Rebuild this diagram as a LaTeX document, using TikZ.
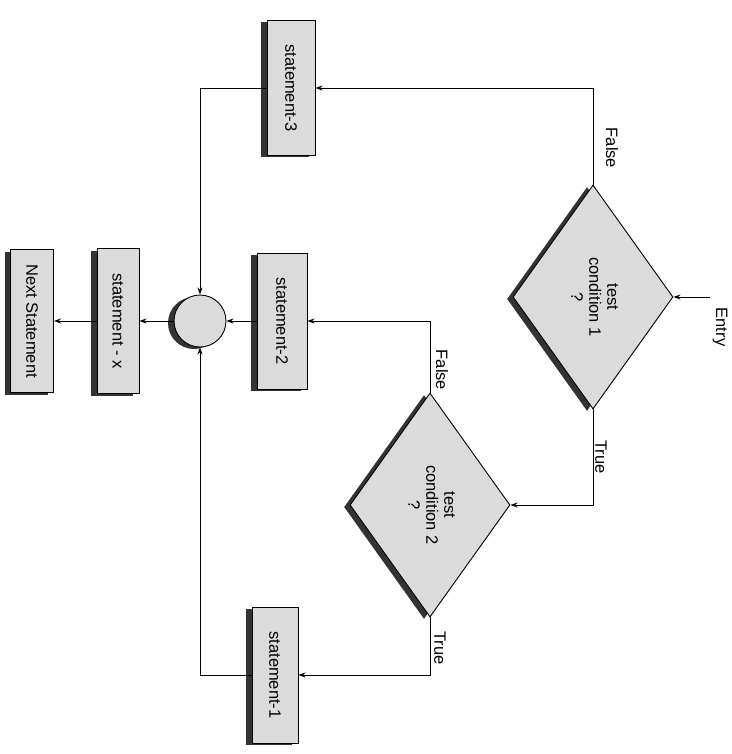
\documentclass[tikz,border=0pt]{standalone}
\usepackage{fontspec}
\setmainfont{Liberation Sans}
\usepackage{graphicx}
\usetikzlibrary{shadows,arrows.meta,shapes.geometric}
\begin{document}
\begin{tikzpicture}[x=1pt,y=1pt,
  font=\fontsize{16.5}{18}\selectfont,
  shaded/.style={fill=black!14, draw=black, line width=0.9pt,
    drop shadow={shadow xshift=-6pt, shadow yshift=-2pt, fill=black!80, opacity=1}},
  stmt/.style={shaded, rectangle, inner sep=0pt},
  dec/.style={shaded, diamond, inner sep=0pt, minimum width=160pt, minimum height=224pt},
  junc/.style={shaded, circle, inner sep=0pt, minimum size=52pt},
  flow/.style={line width=0.9pt, -{Stealth[length=7pt,width=5pt]}},
  lbl/.style={rotate=-90, inner sep=1pt},
]
\useasboundingbox (0,0) rectangle (731,-754);

% decisions
\node[dec] (d1) at (593,-297) {\rotatebox{-90}{\begin{tabular}{@{}c@{}}test\\condition 1\\?\end{tabular}}};
\node[dec] (d2) at (430,-505) {\rotatebox{-90}{\begin{tabular}{@{}c@{}}test\\condition 2\\?\end{tabular}}};

% statements
\node[stmt, minimum width=48pt, minimum height=135pt] (s3) at (291,-88) {\rotatebox{-90}{statement-3}};
\node[stmt, minimum width=50pt, minimum height=136pt] (s2) at (282,-321) {\rotatebox{-90}{statement-2}};
\node[stmt, minimum width=46pt, minimum height=136pt] (s1) at (275,-675) {\rotatebox{-90}{statement-1}};
\node[stmt, minimum width=42pt, minimum height=145pt] (sx) at (118,-321) {\rotatebox{-90}{statement - x}};
\node[stmt, minimum width=43pt, minimum height=143pt] (ns) at (32,-321) {\rotatebox{-90}{Next Statement}};

% junction
\node[junc] (c) at (200,-321) {};

% entry
\coordinate (entry) at (710,-297);
\draw[flow] (entry) -- (d1.east);
\node[lbl] (lentry) at (720,-327) {Entry};

% connectors
\draw[flow] (d1.north) |- (s3.east);
\draw[flow] (s3.west) -| (c.north);
\draw[flow] (d1.south) |- (d2.east);
\draw[flow] (d2.north) |- (s2.east);
\draw[flow] (s2.west) -- (c.east);
\draw[flow] (d2.south) |- (s1.east);
\draw[flow] (s1.west) -| (c.south);
\draw[flow] (c.west) -- (sx.east);
\draw[flow] (sx.west) -- (ns.east);

% labels
\node[lbl] (f1) at (612,-148) {False};
\node[lbl] (t1) at (601,-457) {True};
\node[lbl] (f2) at (442,-370) {False};
\node[lbl] (t2) at (440,-648) {True};
\end{tikzpicture}
\end{document}
